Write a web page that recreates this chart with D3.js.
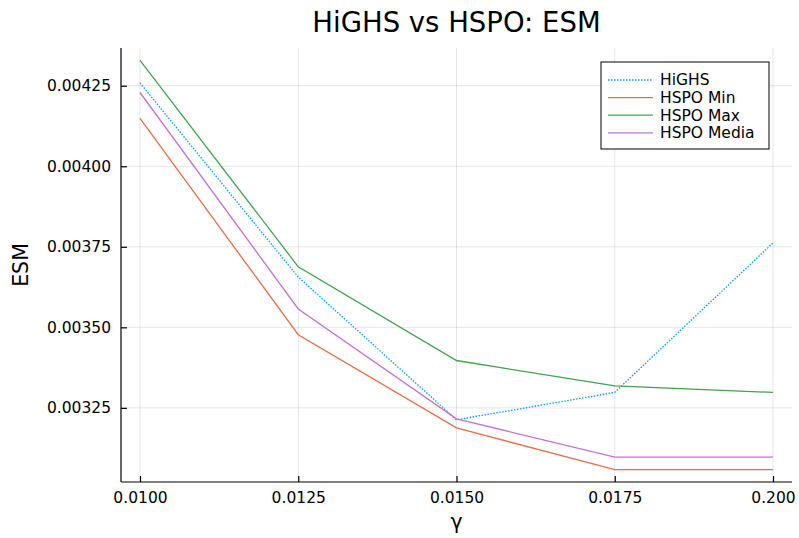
<!DOCTYPE html>
<html>
<head>
<meta charset="utf-8">
<script src="https://cdn.jsdelivr.net/npm/d3@7"></script>
<style>
  html, body { margin: 0; padding: 0; background: #fff; }
  svg { display: block; font-family: "DejaVu Sans", sans-serif; }
</style>
</head>
<body>
<svg id="chart" width="799" height="538"></svg>
<script>
// γ values and tick labels along the x axis
const gammas = [0.0100, 0.0125, 0.0150, 0.0175, 0.0200];
const xTickLabels = ["0.0100", "0.0125", "0.0150", "0.0175", "0.200"];

// ESM per method
const highs      = [0.004259, 0.003656, 0.003213, 0.003298, 0.003762];
const hspoMin    = [0.004149, 0.003477, 0.003188, 0.003058, 0.003058];
const hspoMax    = [0.004329, 0.003688, 0.003397, 0.003318, 0.003298];
const hspoMedia  = [0.004229, 0.003557, 0.003216, 0.003097, 0.003097];

const yTicks = [0.00325, 0.00350, 0.00375, 0.00400, 0.00425];

const seriesNames  = ["HiGHS", "HSPO Min", "HSPO Max", "HSPO Media"];
const seriesValues = [highs, hspoMin, hspoMax, hspoMedia];
const seriesColors = ["#009AFA", "#E36F47", "#3EA44E", "#C371D2"];
const seriesDash   = ["1.5,1.5", null, null, null];

const svg = d3.select("#chart");
const plot = { left: 121, right: 792, top: 48, bottom: 482 };

// 3% padding around the data range on both axes
function padded(vals) {
  const lo = d3.min(vals), hi = d3.max(vals), p = (hi - lo) * 0.03;
  return [lo - p, hi + p];
}
const x = d3.scaleLinear().domain(padded(gammas)).range([plot.left, plot.right]);
const y = d3.scaleLinear().domain(padded(seriesValues.flat())).range([plot.bottom, plot.top]);

// grid
const grid = svg.append("g").attr("stroke", "#000").attr("stroke-opacity", 0.1).attr("stroke-width", 1);
gammas.forEach(g => grid.append("line")
  .attr("x1", x(g)).attr("x2", x(g)).attr("y1", plot.top).attr("y2", plot.bottom));
yTicks.forEach(t => grid.append("line")
  .attr("x1", plot.left).attr("x2", plot.right).attr("y1", y(t)).attr("y2", y(t)));

// axes
const xAxis = d3.axisBottom(x).tickValues(gammas)
  .tickFormat((d, i) => xTickLabels[i]).tickSizeInner(-6).tickSizeOuter(0).tickPadding(10);
const gx = svg.append("g").attr("transform", `translate(0,${plot.bottom})`).call(xAxis);
gx.select(".domain").attr("d", `M${plot.left},0H${plot.right}`);

const yAxis = d3.axisLeft(y).tickValues(yTicks)
  .tickFormat(d3.format(".5f")).tickSizeInner(-6).tickSizeOuter(0).tickPadding(10);
const gy = svg.append("g").attr("transform", `translate(${plot.left},0)`).call(yAxis);
gy.select(".domain").attr("d", `M0,${plot.top}V${plot.bottom}`);

[gx, gy].forEach(g => {
  g.selectAll(".domain").attr("stroke", "#000").attr("stroke-width", 1.2);
  g.selectAll(".tick line").attr("stroke", "#000").attr("stroke-width", 1.2);
  g.selectAll(".tick text").attr("fill", "#000").attr("font-size", 15.5)
    .attr("font-family", "DejaVu Sans, sans-serif");
});

// series lines
const line = d3.line().x((d, i) => x(gammas[i])).y(d => y(d));
seriesValues.forEach((vals, k) => {
  svg.append("path").datum(vals)
    .attr("d", line)
    .attr("fill", "none")
    .attr("stroke", seriesColors[k])
    .attr("stroke-width", 1.3)
    .attr("stroke-dasharray", seriesDash[k]);
});

// title and axis labels
svg.append("text").attr("x", (plot.left + plot.right) / 2).attr("y", 32)
  .attr("text-anchor", "middle").attr("font-size", 27.5).attr("fill", "#000")
  .text("HiGHS vs HSPO: ESM");
svg.append("text").attr("x", (plot.left + plot.right) / 2).attr("y", 529)
  .attr("text-anchor", "middle").attr("font-size", 20.5).attr("fill", "#000")
  .text("γ");
svg.append("text")
  .attr("transform", `translate(28,${(plot.top + plot.bottom) / 2}) rotate(-90)`)
  .attr("text-anchor", "middle").attr("font-size", 20.5).attr("fill", "#000")
  .text("ESM");

// legend
const lg = svg.append("g").attr("transform", "translate(601,62)");
lg.append("rect").attr("width", 168).attr("height", 87)
  .attr("fill", "#fff").attr("stroke", "#000").attr("stroke-width", 1);
seriesNames.forEach((name, k) => {
  const yy = 18 + k * 17.6;
  lg.append("line").attr("x1", 7).attr("x2", 52).attr("y1", yy).attr("y2", yy)
    .attr("stroke", seriesColors[k]).attr("stroke-width", 1.3)
    .attr("stroke-dasharray", seriesDash[k]);
  lg.append("text").attr("x", 59).attr("y", yy).attr("dy", "0.35em")
    .attr("font-size", 15.5).attr("fill", "#000").text(name);
});
</script>
</body>
</html>
